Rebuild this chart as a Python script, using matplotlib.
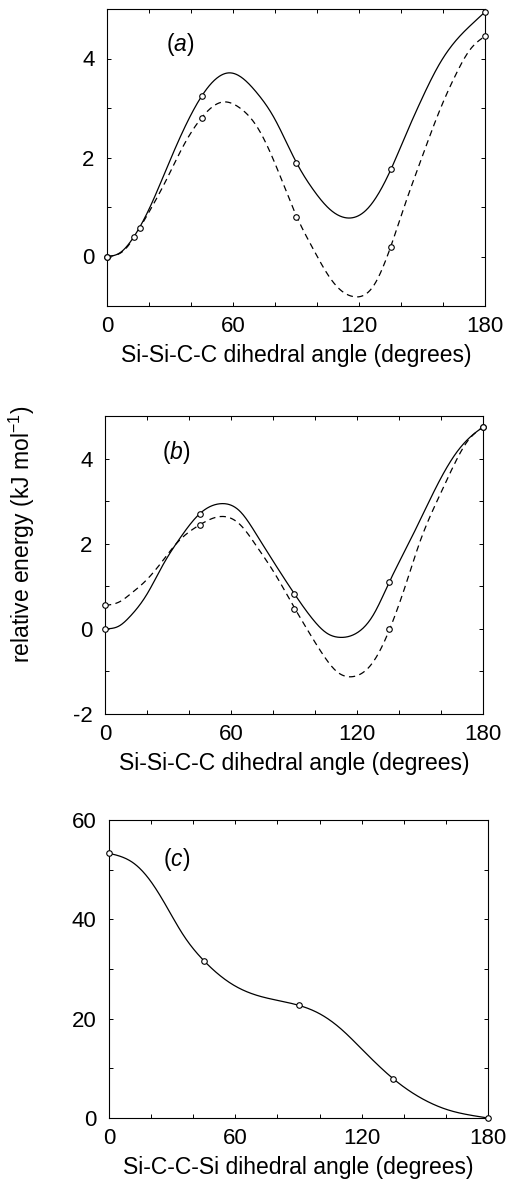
import numpy as np
import matplotlib
matplotlib.use('Agg')
from matplotlib import pyplot as plt
from matplotlib.ticker import MultipleLocator, FixedLocator

plt.rcParams['font.family'] = ['Liberation Sans', 'DejaVu Sans']
plt.rcParams['mathtext.fontset'] = 'custom'
plt.rcParams['mathtext.rm'] = 'Liberation Sans'
plt.rcParams['mathtext.it'] = 'Liberation Sans:italic'
plt.rcParams['axes.unicode_minus'] = False

# panel (a): Si-Si-C-C scan, two levels of theory
a_solid_px = [0, 13, 45, 90, 135, 180]
a_solid_py = [0.0, 0.40, 3.25, 1.89, 1.76, 4.94]
a_dash_px = [0, 15.5, 45, 90, 135, 180]
a_dash_py = [0.0, 0.57, 2.80, 0.80, 0.20, 4.45]
a_solid_cx = [0, 6, 12.5, 20.5, 28.4, 52.2, 58.6, 63.3, 71.3, 79.2, 90.3,
              98.2, 106.2, 114.1, 123.7, 135.2, 142.7, 149, 158.6, 166.5, 174.4, 180]
a_solid_cy = [0.0, 0.07, 0.38, 1.00, 1.78, 3.60, 3.71, 3.64, 3.31, 2.83, 1.89,
              1.35, 0.95, 0.78, 0.95, 1.76, 2.50, 3.10, 3.91, 4.38, 4.72, 4.94]
a_dash_cx = [0, 8, 15.5, 28.4, 36.3, 45, 55, 63.3, 71.3, 79.2, 85.6, 90.3, 98.2, 104.6,
             111, 117.3, 126.8, 135.2, 142.7, 149, 158.6, 166.5, 172.9, 180]
a_dash_cy = [0.0, 0.12, 0.57, 1.56, 2.23, 2.80, 3.12, 3.00, 2.63, 1.96, 1.29, 0.81, 0.15, -0.33,
             -0.67, -0.81, -0.60, 0.21, 1.15, 1.89, 2.97, 3.71, 4.18, 4.45]

# panel (b)
b_px = [0, 45, 90, 135, 180]
b_solid_py = [0.0, 2.70, 0.81, 1.10, 4.74]
b_dash_py = [0.55, 2.44, 0.46, 0.0, 4.74]
b_solid_cx = [0, 6.8, 11.9, 19.8, 27.8, 35.7, 45, 55, 64.3, 72.2, 80.2, 90.5, 99.2, 105.6,
              111.9, 119.8, 127.8, 135.4, 143.7, 150, 159.5, 167.5, 175.4, 180]
b_solid_cy = [0.0, 0.07, 0.29, 0.80, 1.52, 2.13, 2.70, 2.94, 2.76, 2.21, 1.58, 0.80, 0.21, -0.10,
              -0.20, -0.10, 0.33, 1.10, 1.92, 2.55, 3.50, 4.15, 4.57, 4.74]
b_dash_cx = [0, 7.1, 11.9, 19.8, 27.8, 34.1, 45, 55.6, 64.3, 72.2, 80.2, 90.5, 96, 104,
             110.3, 118.3, 127.8, 135.7, 143.7, 150, 159.5, 167.5, 172.2, 180]
b_dash_cy = [0.55, 0.64, 0.81, 1.15, 1.62, 2.01, 2.44, 2.64, 2.45, 1.94, 1.35, 0.47, 0.01, -0.62,
             -1.00, -1.12, -0.77, 0.01, 1.11, 2.05, 3.15, 3.98, 4.38, 4.74]

# panel (c): Si-C-C-Si scan
c_px = [0, 45, 90, 135, 180]
c_py = [53.3, 31.7, 22.7, 7.9, 0.0]
c_cx = [0, 11.4, 19.4, 27.3, 35.2, 45, 59, 71.8, 90, 100, 110, 120, 135, 150, 162, 170, 180]
c_cy = [53.3, 51.4, 47.9, 42.6, 36.9, 31.7, 26.8, 24.5, 22.7, 21.0, 18.0, 13.9, 7.9, 3.6, 1.5, 0.7, 0.0]


def spline(x, y, xs):
    # natural cubic spline through the read curve samples
    x = np.asarray(x, float)
    y = np.asarray(y, float)
    n = len(x)
    h = np.diff(x)
    A = np.zeros((n, n))
    r = np.zeros(n)
    A[0, 0] = A[-1, -1] = 1
    for k in range(1, n - 1):
        A[k, k - 1] = h[k - 1]
        A[k, k] = 2 * (h[k - 1] + h[k])
        A[k, k + 1] = h[k]
        r[k] = 6 * ((y[k + 1] - y[k]) / h[k] - (y[k] - y[k - 1]) / h[k - 1])
    M = np.linalg.solve(A, r)
    i = np.clip(np.searchsorted(x, xs) - 1, 0, n - 2)
    a = x[i + 1] - xs
    b = xs - x[i]
    hi = h[i]
    return (M[i] * a**3 / (6 * hi) + M[i + 1] * b**3 / (6 * hi)
            + (y[i] / hi - M[i] * hi / 6) * a + (y[i + 1] / hi - M[i + 1] * hi / 6) * b)


def curve(ax, cx, cy, px, py, dashed=False):
    xs = np.linspace(0, 180, 600)
    kw = dict(color='black', lw=0.9)
    if dashed:
        ax.plot(xs, spline(cx, cy, xs), dashes=(5, 3.5), **kw)
    else:
        ax.plot(xs, spline(cx, cy, xs), **kw)
    ax.plot(px, py, 'o', ms=4, mfc='white', mec='black', mew=0.8, clip_on=False, zorder=5)


def setup(ax, ylim, ymajor, ystep, xlabel, tag, tagpos):
    ax.set_xlim(0, 180)
    ax.set_ylim(*ylim)
    ax.xaxis.set_major_locator(FixedLocator([0, 60, 120, 180]))
    ax.xaxis.set_minor_locator(MultipleLocator(20))
    ax.yaxis.set_major_locator(FixedLocator(ymajor))
    ax.yaxis.set_minor_locator(MultipleLocator(ystep))
    ax.tick_params(which='both', direction='in', top=True, right=True,
                   length=3, width=0.7, labelsize=16)
    ax.tick_params(axis='x', pad=7)
    ax.tick_params(axis='y', pad=9)
    for s in ax.spines.values():
        s.set_linewidth(0.8)
    ax.set_xlabel(xlabel, fontsize=16.5, labelpad=5)
    ax.text(tagpos[0], tagpos[1], '($\\mathit{' + tag + '}$)', transform=ax.transAxes,
            fontsize=16.5, ha='center', va='center')


fig = plt.figure(figsize=(5.09, 11.88), dpi=100)
W, H = 509, 1188


def add_axes(l, r, t, b):
    return fig.add_axes([l / W, 1 - b / H, (r - l) / W, (b - t) / H])


ax1 = add_axes(107, 485, 9, 306)
curve(ax1, a_solid_cx, a_solid_cy, a_solid_px, a_solid_py)
curve(ax1, a_dash_cx, a_dash_cy, a_dash_px, a_dash_py, dashed=True)
setup(ax1, (-1, 5), [0, 2, 4], 1, 'Si-Si-C-C dihedral angle (degrees)', 'a', (0.193, 0.879))

ax2 = add_axes(105, 483, 416, 714)
curve(ax2, b_solid_cx, b_solid_cy, b_px, b_solid_py)
curve(ax2, b_dash_cx, b_dash_cy, b_px, b_dash_py, dashed=True)
setup(ax2, (-2, 5), [-2, 0, 2, 4], 1, 'Si-Si-C-C dihedral angle (degrees)', 'b', (0.188, 0.879))

ax3 = add_axes(109, 488, 820, 1118)
curve(ax3, c_cx, c_cy, c_px, c_py)
setup(ax3, (0, 60), [0, 20, 40, 60], 10, 'Si-C-C-Si dihedral angle (degrees)', 'c', (0.179, 0.866))

fig.text(22 / W, 1 - 534 / H, 'relative energy (kJ mol$^{\\mathrm{-1}}$)', rotation=90,
         fontsize=16.5, ha='center', va='center')

fig.savefig('out.png', dpi=100)
